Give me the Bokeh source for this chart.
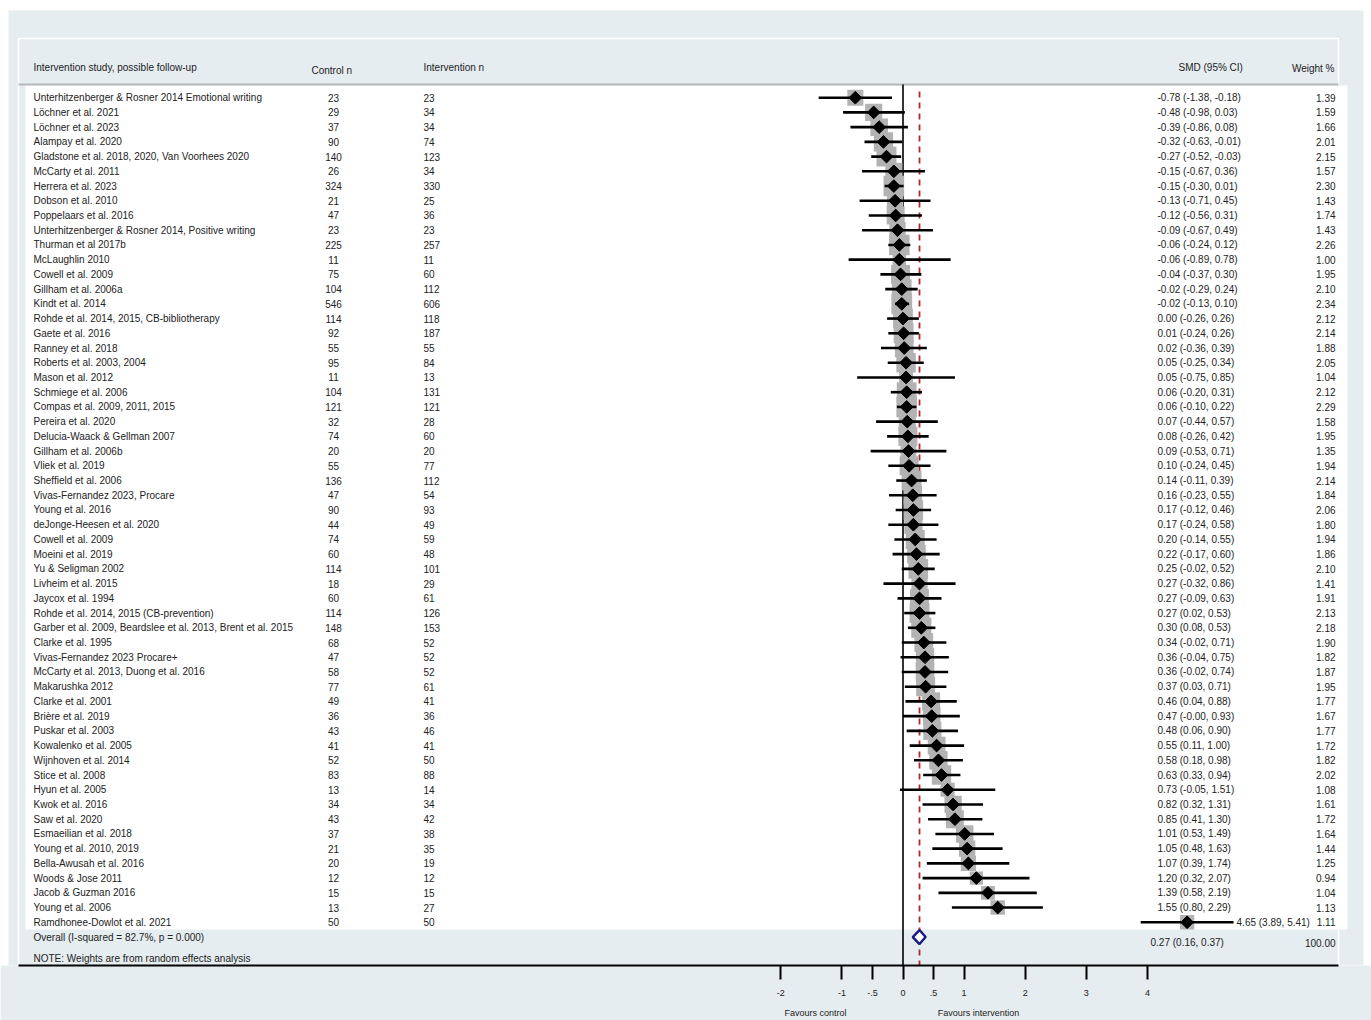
import numpy as np
from bokeh.plotting import figure
from bokeh.models import Range1d, FixedTicker, LinearAxis
from bokeh.core.properties import value
from bokeh.embed import file_html
from bokeh.resources import INLINE

# ---------------- data ----------------
studies = [
    "Unterhitzenberger & Rosner 2014 Emotional writing",
    "Löchner et al. 2021",
    "Löchner et al. 2023",
    "Alampay et al. 2020",
    "Gladstone et al. 2018, 2020, Van Voorhees 2020",
    "McCarty et al. 2011",
    "Herrera et al. 2023",
    "Dobson et al. 2010",
    "Poppelaars et al. 2016",
    "Unterhitzenberger & Rosner 2014, Positive writing",
    "Thurman et al 2017b",
    "McLaughlin 2010",
    "Cowell et al. 2009",
    "Gillham et al. 2006a",
    "Kindt et al. 2014",
    "Rohde et al. 2014, 2015, CB-bibliotherapy",
    "Gaete et al. 2016",
    "Ranney et al. 2018",
    "Roberts et al. 2003, 2004",
    "Mason et al. 2012",
    "Schmiege et al. 2006",
    "Compas et al. 2009, 2011, 2015",
    "Pereira et al. 2020",
    "Delucia-Waack & Gellman 2007",
    "Gillham et al. 2006b",
    "Vliek et al. 2019",
    "Sheffield et al. 2006",
    "Vivas-Fernandez 2023, Procare",
    "Young et al. 2016",
    "deJonge-Heesen et al. 2020",
    "Cowell et al. 2009",
    "Moeini et al. 2019",
    "Yu & Seligman 2002",
    "Livheim et al. 2015",
    "Jaycox et al. 1994",
    "Rohde et al. 2014, 2015 (CB-prevention)",
    "Garber et al. 2009, Beardslee et al. 2013, Brent et al. 2015",
    "Clarke et al. 1995",
    "Vivas-Fernandez 2023 Procare+",
    "McCarty et al. 2013, Duong et al. 2016",
    "Makarushka 2012",
    "Clarke et al. 2001",
    "Brière et al. 2019",
    "Puskar et al. 2003",
    "Kowalenko et al. 2005",
    "Wijnhoven et al. 2014",
    "Stice et al. 2008",
    "Hyun et al. 2005",
    "Kwok et al. 2016",
    "Saw et al. 2020",
    "Esmaeilian et al. 2018",
    "Young et al. 2010, 2019",
    "Bella-Awusah et al. 2016",
    "Woods & Jose 2011",
    "Jacob & Guzman 2016",
    "Young et al. 2006",
    "Ramdhonee-Dowlot et al. 2021",
]
control_n = [23, 29, 37, 90, 140, 26, 324, 21, 47, 23, 225, 11, 75, 104, 546, 114,
             92, 55, 95, 11, 104, 121, 32, 74, 20, 55, 136, 47, 90, 44, 74, 60, 114,
             18, 60, 114, 148, 68, 47, 58, 77, 49, 36, 43, 41, 52, 83, 13, 34, 43,
             37, 21, 20, 12, 15, 13, 50]
intervention_n = [23, 34, 34, 74, 123, 34, 330, 25, 36, 23, 257, 11, 60, 112, 606, 118,
                  187, 55, 84, 13, 131, 121, 28, 60, 20, 77, 112, 54, 93, 49, 59, 48, 101,
                  29, 61, 126, 153, 52, 52, 52, 61, 41, 36, 46, 41, 50, 88, 14, 34, 42,
                  38, 35, 19, 12, 15, 27, 50]
smd = [-0.78, -0.48, -0.39, -0.32, -0.27, -0.15, -0.15, -0.13, -0.12, -0.09, -0.06, -0.06,
       -0.04, -0.02, -0.02, 0.00, 0.01, 0.02, 0.05, 0.05, 0.06, 0.06, 0.07, 0.08, 0.09,
       0.10, 0.14, 0.16, 0.17, 0.17, 0.20, 0.22, 0.25, 0.27, 0.27, 0.27, 0.30, 0.34, 0.36,
       0.36, 0.37, 0.46, 0.47, 0.48, 0.55, 0.58, 0.63, 0.73, 0.82, 0.85, 1.01, 1.05, 1.07,
       1.20, 1.39, 1.55, 4.65]
ci_lo = [-1.38, -0.98, -0.86, -0.63, -0.52, -0.67, -0.30, -0.71, -0.56, -0.67, -0.24, -0.89,
         -0.37, -0.29, -0.13, -0.26, -0.24, -0.36, -0.25, -0.75, -0.20, -0.10, -0.44, -0.26,
         -0.53, -0.24, -0.11, -0.23, -0.12, -0.24, -0.14, -0.17, -0.02, -0.32, -0.09, 0.02,
         0.08, -0.02, -0.04, -0.02, 0.03, 0.04, -0.0, 0.06, 0.11, 0.18, 0.33, -0.05, 0.32,
         0.41, 0.53, 0.48, 0.39, 0.32, 0.58, 0.80, 3.89]
ci_hi = [-0.18, 0.03, 0.08, -0.01, -0.03, 0.36, 0.01, 0.45, 0.31, 0.49, 0.12, 0.78, 0.30,
         0.24, 0.10, 0.26, 0.26, 0.39, 0.34, 0.85, 0.31, 0.22, 0.57, 0.42, 0.71, 0.45, 0.39,
         0.55, 0.46, 0.58, 0.55, 0.60, 0.52, 0.86, 0.63, 0.53, 0.53, 0.71, 0.75, 0.74, 0.71,
         0.88, 0.93, 0.90, 1.00, 0.98, 0.94, 1.51, 1.31, 1.30, 1.49, 1.63, 1.74, 2.07, 2.19,
         2.29, 5.41]
weight = [1.39, 1.59, 1.66, 2.01, 2.15, 1.57, 2.30, 1.43, 1.74, 1.43, 2.26, 1.00, 1.95, 2.10,
          2.34, 2.12, 2.14, 1.88, 2.05, 1.04, 2.12, 2.29, 1.58, 1.95, 1.35, 1.94, 2.14, 1.84,
          2.06, 1.80, 1.94, 1.86, 2.10, 1.41, 1.91, 2.13, 2.18, 1.90, 1.82, 1.87, 1.95, 1.77,
          1.67, 1.77, 1.72, 1.82, 2.02, 1.08, 1.61, 1.72, 1.64, 1.44, 1.25, 0.94, 1.04, 1.13,
          1.11]

overall_smd, overall_lo, overall_hi, overall_weight = 0.27, 0.16, 0.37, 100.00
i_squared, p_value = 82.7, 0.000

tick_values = [-2, -1, -0.5, 0, 0.5, 1, 2, 3, 4]
tick_labels = ["-2", "-1", "-.5", "0", ".5", "1", "2", "3", "4"]

header_study = "Intervention study, possible follow-up"
header_control = "Control n"
header_interv = "Intervention n"
header_smd = "SMD (95% CI)"
header_weight = "Weight %"
note_text = "NOTE: Weights are from random effects analysis"
favours_labels = ["Favours control", "Favours intervention"]

# ---------------- layout (page-pixel geometry) ----------------
W, H = 1371, 1020
PAGE_L, PAGE_R = 0, W
ZERO_X = 902.5          # page x of SMD = 0
PX_UNIT = 61.1          # pixels per SMD unit
FRAME_TOP, FRAME_BOT = 0, 966
ROW0, ROW_STEP = 97.3, 14.74
FAVOURS_X = [815, 978]  # page-x centres of the two direction captions

PANEL = "#e6edf0"
TXT = "#222222"
FONT = value("Liberation Sans")
FS = value("10px")


def to_smd(px):
    return (px - ZERO_X) / PX_UNIT


def to_px(v):
    return ZERO_X + PX_UNIT * np.asarray(v)


n = len(studies)
row_y = ROW0 + ROW_STEP * np.arange(n)

p = figure(width=W, height=H, output_backend="svg", toolbar_location=None,
           x_range=Range1d(to_smd(PAGE_L), to_smd(PAGE_R)),
           y_range=Range1d(FRAME_BOT, FRAME_TOP),
           min_border_left=0, min_border_right=0, min_border_top=0,
           min_border_bottom=H - (FRAME_BOT - FRAME_TOP))
p.extra_x_ranges = {"px": Range1d(PAGE_L, PAGE_R)}
p.background_fill_color = "white"
p.border_fill_color = PANEL
p.outline_line_color = None
p.grid.visible = False
p.yaxis.visible = False

# panels
p.quad(left=[8], right=[1363], top=[10], bottom=[FRAME_BOT + 5], fill_color=PANEL,
       line_color=None, x_range_name="px")
p.quad(left=[18], right=[1338], top=[38], bottom=[FRAME_BOT], fill_color=None,
       line_color="white", line_width=1.5, x_range_name="px")
p.quad(left=[25], right=[1347], top=[85], bottom=[930], fill_color="white",
       line_color=None, x_range_name="px")
p.segment(x0=[18], x1=[1338], y0=[84], y1=[84], line_color="#b4b9bd", line_width=2,
          x_range_name="px")

# reference lines
p.segment(x0=[0], x1=[0], y0=[84], y1=[FRAME_BOT], line_color="black", line_width=1.6)
p.segment(x0=[overall_smd], x1=[overall_smd], y0=[91], y1=[FRAME_BOT],
          line_color="#b0282c", line_width=1.8, line_dash="6 5")

# weight boxes
side = 13.6 * np.sqrt(np.array(weight))
p.rect(x=smd, y=row_y, width=side, height=side, width_units="screen",
       height_units="screen", fill_color="#b3b3b3", line_color=None)
# CI lines
p.segment(x0=ci_lo, x1=ci_hi, y0=row_y, y1=row_y, line_color="black", line_width=2.6)
# point estimates
p.scatter(x=smd, y=row_y, marker="square", size=9, angle=np.pi / 4,
          fill_color="black", line_color="black")

# overall diamond
oy = 937.5
p.patch(x=[overall_lo, overall_smd, overall_hi, overall_smd],
        y=[oy, oy - 7, oy, oy + 7], fill_color="white", line_color="#1b1b84",
        line_width=2.5)

# ---------------- table texts ----------------
def txt(x, y, t, align="left", size=FS):
    p.text(x=x, y=y, text=t, x_range_name="px", text_font=FONT, text_font_size=size,
           text_color=TXT, text_align=align, text_baseline="middle")


txt([33], [67], [header_study])
txt([311], [70], [header_control])
txt([423], [67], [header_interv])
txt([1178], [67], [header_smd])
txt([1334], [68], [header_weight], align="right")

txt([33] * n, row_y, studies)
txt([333] * n, row_y, [str(v) for v in control_n], align="center")
txt([423] * n, row_y, [str(v) for v in intervention_n])

smd_txt = [f"{m:.2f} ({l:.2f}, {h:.2f})" for m, l, h in zip(smd, ci_lo, ci_hi)]
smd_x = np.maximum(1157, to_px(ci_hi) + 3)
txt(smd_x, row_y, smd_txt)
txt([1335] * n, row_y, [f"{w:.2f}" for w in weight], align="right")

txt([33], [938], [f"Overall  (I-squared = {i_squared:.1f}%, p = {p_value:.3f})"])
txt([1150], [943], [f"{overall_smd:.2f} ({overall_lo:.2f}, {overall_hi:.2f})"])
txt([1335], [943], [f"{overall_weight:.2f}"], align="right")
txt([33], [959], [note_text])

# ---------------- axes ----------------
ax = p.xaxis[0]
ax.bounds = (to_smd(18), to_smd(1338))
ax.ticker = FixedTicker(ticks=tick_values)
ax.major_label_overrides = {float(v): lab for v, lab in zip(tick_values, tick_labels)}
ax.axis_line_color = "black"
ax.axis_line_width = 2
ax.major_tick_line_color = "black"
ax.major_tick_line_width = 2
ax.major_tick_in = 0
ax.major_tick_out = 14
ax.minor_tick_line_color = None
ax.major_label_standoff = 10
ax.major_label_text_font = "Liberation Sans"
ax.major_label_text_font_size = "9px"
ax.major_label_text_color = TXT

fav = LinearAxis(x_range_name="px", ticker=FixedTicker(ticks=FAVOURS_X),
                 major_label_overrides={float(v): t for v, t in zip(FAVOURS_X, favours_labels)},
                 axis_line_color=None, major_tick_line_color=None,
                 minor_tick_line_color=None, major_label_standoff=3,
                 major_label_text_font="Liberation Sans", major_label_text_font_size="9px",
                 major_label_text_color=TXT)
p.add_layout(fav, "below")

open("out.html", "w").write(file_html(p, INLINE))
